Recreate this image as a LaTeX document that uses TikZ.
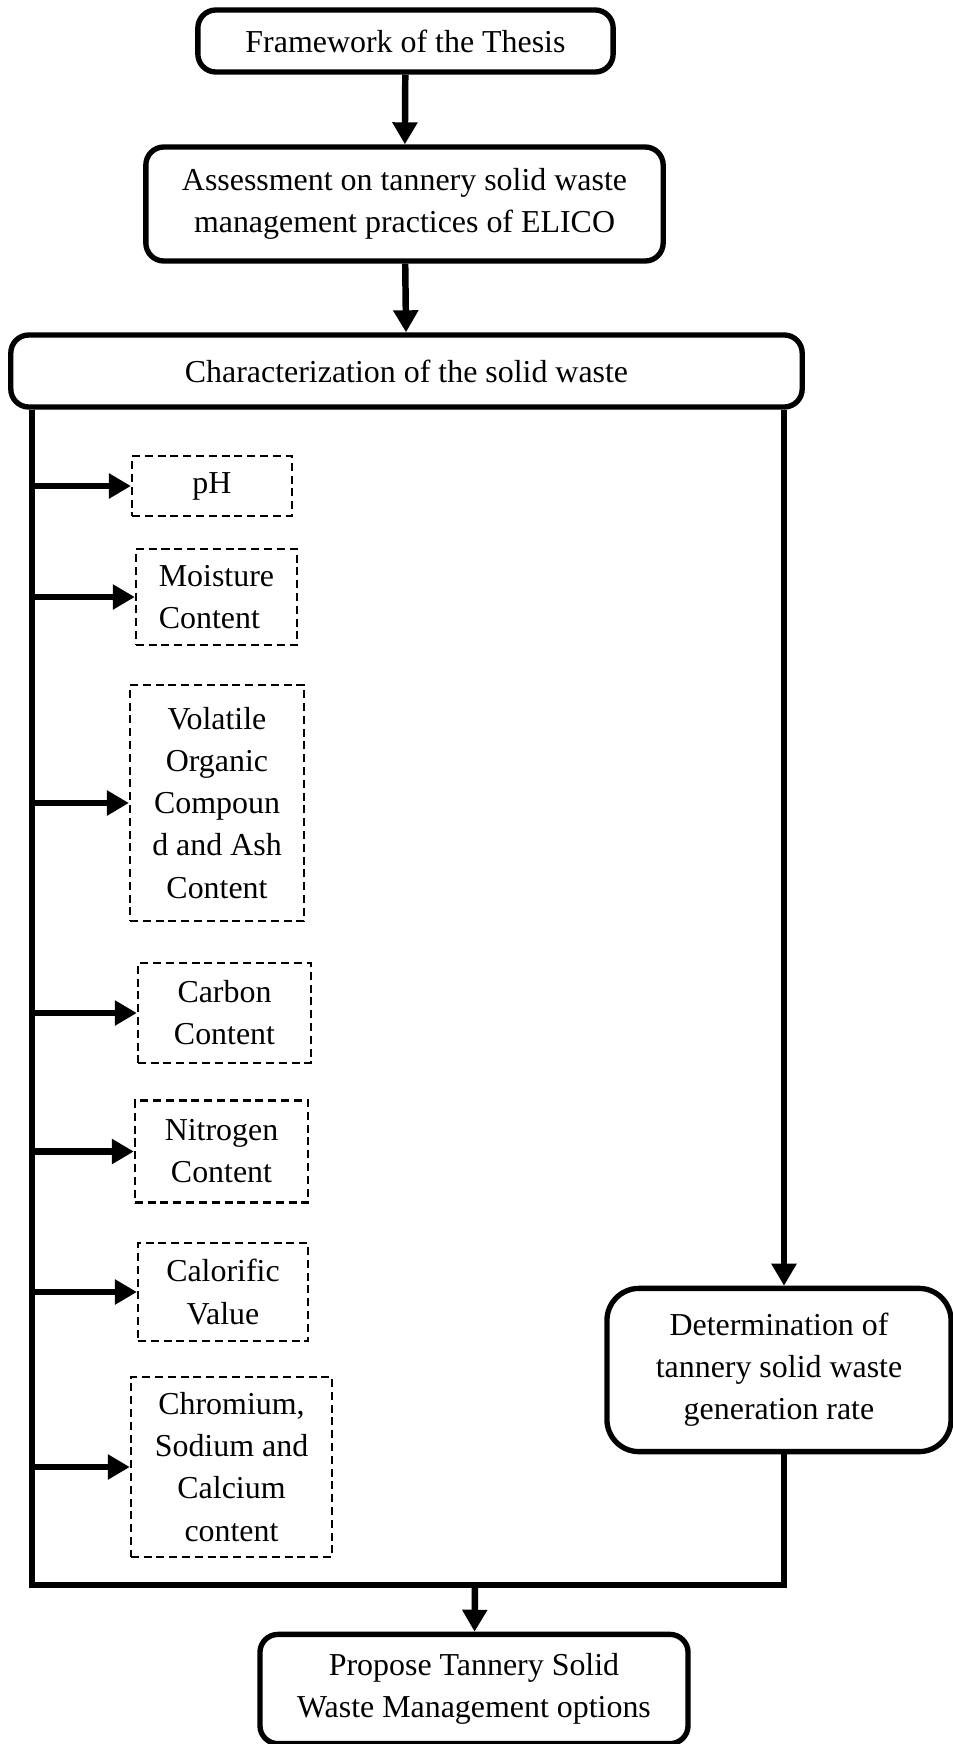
\documentclass[tikz,border=0pt]{standalone}
\usepackage{fontspec}
\setmainfont{Liberation Serif}
\usetikzlibrary{calc}
\usetikzlibrary{arrows.meta}

\tikzset{
  mainbox/.style={draw, line width=3.8pt, rounded corners=0.45cm, align=center, inner sep=0pt},
  testbox/.style={draw, line width=1.5pt, dash pattern=on 0.2cm off 0.12cm, align=center, inner sep=0pt},
  flow/.style={line width=4.6pt, -{Triangle[length=0.55cm,width=0.6cm]}},
  spineline/.style={line width=4.6pt}
}

\begin{document}
\begin{tikzpicture}[x=0.025cm, y=-0.025cm, font=\fontsize{22.7}{29.9}\selectfont]
    % Fix the page to the size of the figure
    \useasboundingbox (0,0) rectangle (953,1744);

    % Define the spine, the right rail and the joining point
    \coordinate (spine) at (32,0);
    \coordinate (rail) at (784,0);
    \coordinate (join) at (475,1585);

    % Draw the main steps
    \node[mainbox, minimum width=10.38cm, minimum height=1.55cm] (frame) at (405.5,41) {Framework of the Thesis};
    \node[mainbox, minimum width=12.93cm, minimum height=2.85cm] (assess) at (404.5,204) {Assessment on tannery solid waste\\management practices of ELICO};
    \node[mainbox, minimum width=19.78cm, minimum height=1.8cm] (charac) at (406.5,371) {Characterization of the solid waste};
    \node[mainbox, rounded corners=0.8cm, minimum width=8.6cm, minimum height=4.08cm] (determ) at (779,1370) {Determination of\\tannery solid waste\\generation rate};
    \node[mainbox, minimum width=10.7cm, minimum height=2.73cm] (propose) at (474,1689) {Propose Tannery Solid\\Waste Management options};

    % Draw the parameters
    \node[testbox, minimum width=4.0cm, minimum height=1.48cm] (ph) at (212,486) {pH};
    \node[testbox, align=left, minimum width=4.03cm, minimum height=2.38cm] (moist) at (216.5,597) {Moisture\\Content};
    \node[testbox, minimum width=4.35cm, minimum height=5.9cm] (volat) at (217,803) {Volatile\\Organic\\Compoun\\d and Ash\\Content};
    \node[testbox, minimum width=4.33cm, minimum height=2.48cm] (carbon) at (224.5,1013) {Carbon\\Content};
    \node[testbox, minimum width=4.33cm, minimum height=2.55cm] (nitro) at (221.5,1151.5) {Nitrogen\\Content};
    \node[testbox, minimum width=4.25cm, minimum height=2.45cm] (calor) at (223,1292) {Calorific\\Value};
    \node[testbox, minimum width=5.03cm, minimum height=4.5cm] (chrom) at (231.5,1467) {Chromium,\\Sodium and\\Calcium\\content};

    % Draw the connectors
    \draw[flow] (frame) -- (assess);
    \draw[flow] (assess) -- (charac);
    \draw[spineline] (charac.south -| spine) -- (join -| spine) -- (join -| rail) -- (determ.south -| rail);
    \draw[flow] (charac.south -| rail) -- (determ.north -| rail);
    \draw[flow] (join) -- (propose);
    \foreach \n in {ph,moist,volat,carbon,nitro,calor,chrom}
        \draw[flow] (\n.west -| spine) -- (\n.west);
\end{tikzpicture}
\end{document}
